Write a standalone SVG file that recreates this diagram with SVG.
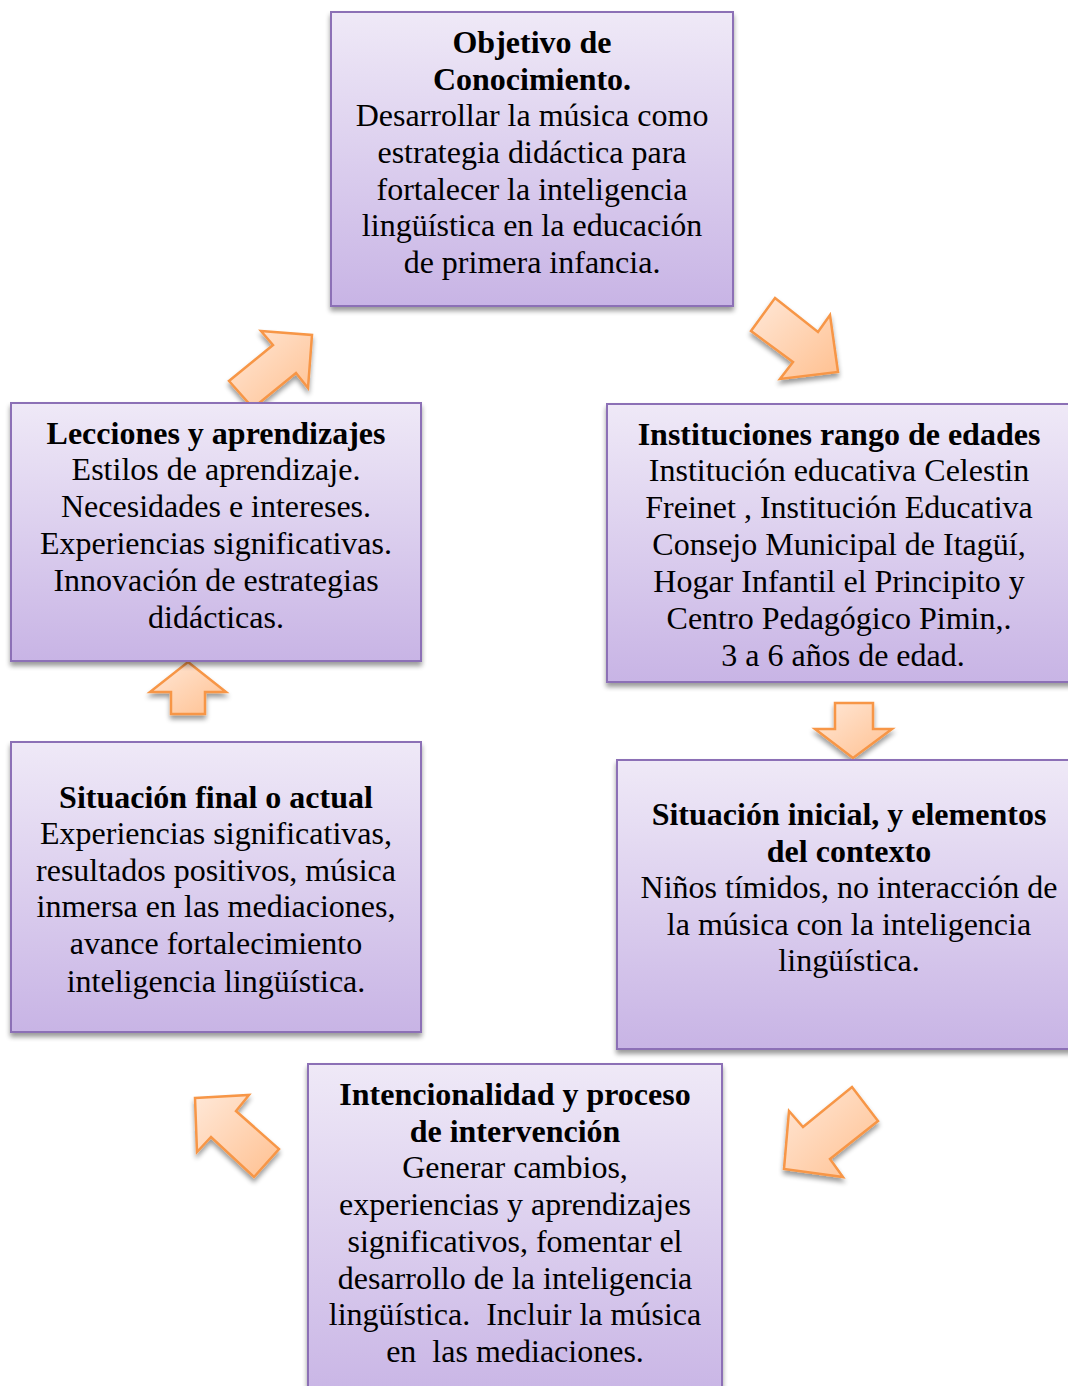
<svg xmlns="http://www.w3.org/2000/svg" width="1068" height="1386" viewBox="0 0 1068 1386">
<defs>
  <linearGradient id="boxg" x1="0" y1="0" x2="0" y2="1">
    <stop offset="0" stop-color="#efe9f7"/>
    <stop offset="1" stop-color="#c8b4e5"/>
  </linearGradient>
  <linearGradient id="arrg" x1="0" y1="0" x2="1" y2="1">
    <stop offset="0" stop-color="#ffe8d8"/>
    <stop offset="1" stop-color="#ffc090"/>
  </linearGradient>
  <filter id="sh" x="-10%" y="-10%" width="130%" height="130%">
    <feGaussianBlur in="SourceAlpha" stdDeviation="2.5"/>
    <feOffset dx="0" dy="4" result="b"/>
    <feComponentTransfer><feFuncA type="linear" slope="0.4"/></feComponentTransfer>
    <feMerge><feMergeNode/><feMergeNode in="SourceGraphic"/></feMerge>
  </filter>
</defs>
<style>
  .box { fill: url(#boxg); stroke: #8c70b6; stroke-width: 2; filter: url(#sh); }
  .arr { fill: url(#arrg); stroke: #f79646; stroke-width: 2.5; stroke-linejoin: miter; filter: url(#sh); }
  text { font-family: "Liberation Serif", "Times New Roman", serif; font-size: 32px; fill: #000; text-anchor: middle; white-space: pre; }
  .b { font-weight: bold; }
</style>
<rect width="1068" height="1386" fill="#ffffff"/>

<g id="connectors">
  <polygon class="arr" points="775,298 818,332 830,315 838,372 780,379 793,362 751,331"/>
  <polygon class="arr" points="835,703 873,703 873,729 892,729 853,758 815,729 835,729"/>
  <polygon class="arr" points="852,1087 878,1121 830,1159 843,1177 784,1169 789,1111 803,1127"/>
  <polygon class="arr" points="195,1098 249,1095 236,1111 279,1149 254,1177 211,1137 197,1152"/>
  <polygon class="arr" points="188,662 226,692 205,692 205,714 171,714 171,692 150,692"/>
  <polygon class="arr" points="261,331 312,335 308,388 296,373 253,408 229,381 273,345"/>
</g>

<g id="node-objetivo">
  <rect class="box" x="331" y="12" width="402" height="294"/>
  <text x="532" y="53" class="b">Objetivo de</text>
  <text x="532" y="90" class="b">Conocimiento.</text>
  <text x="532" y="126">Desarrollar la música como</text>
  <text x="532" y="163">estrategia didáctica para</text>
  <text x="532" y="200">fortalecer la inteligencia</text>
  <text x="532" y="236">lingüística en la educación</text>
  <text x="532" y="273">de primera infancia.</text>
</g>

<g id="node-instituciones">
  <rect class="box" x="607" y="404" width="470" height="278"/>
  <text x="839" y="445" class="b">Instituciones rango de edades</text>
  <text x="839" y="481">Institución educativa Celestin</text>
  <text x="839" y="518">Freinet , Institución Educativa</text>
  <text x="839" y="555">Consejo Municipal de Itagüí,</text>
  <text x="839" y="592">Hogar Infantil el Principito y</text>
  <text x="839" y="629">Centro Pedagógico Pimin,.</text>
  <text x="839" y="666"> 3 a 6 años de edad.</text>
</g>

<g id="node-situacion-inicial">
  <rect class="box" x="617" y="760" width="460" height="289"/>
  <text x="849" y="825" class="b">Situación inicial, y elementos</text>
  <text x="849" y="862" class="b">del contexto</text>
  <text x="849" y="898">Niños tímidos, no interacción de</text>
  <text x="849" y="935">la música con la inteligencia</text>
  <text x="849" y="971">lingüística.</text>
</g>

<g id="node-intencionalidad">
  <rect class="box" x="308" y="1064" width="414" height="340"/>
  <text x="515" y="1105" class="b">Intencionalidad y proceso</text>
  <text x="515" y="1142" class="b">de intervención</text>
  <text x="515" y="1178">Generar cambios,</text>
  <text x="515" y="1215">experiencias y aprendizajes</text>
  <text x="515" y="1252">significativos, fomentar el</text>
  <text x="515" y="1289">desarrollo de la inteligencia</text>
  <text x="515" y="1325">lingüística.  Incluir la música</text>
  <text x="515" y="1362">en  las mediaciones.</text>
</g>

<g id="node-situacion-final">
  <rect class="box" x="11" y="742" width="410" height="290"/>
  <text x="216" y="808" class="b">Situación final o actual</text>
  <text x="216" y="844">Experiencias significativas,</text>
  <text x="216" y="881">resultados positivos, música</text>
  <text x="216" y="917">inmersa en las mediaciones,</text>
  <text x="216" y="954">avance fortalecimiento</text>
  <text x="216" y="992">inteligencia lingüística.</text>
</g>

<g id="node-lecciones">
  <rect class="box" x="11" y="403" width="410" height="258"/>
  <text x="216" y="444" class="b">Lecciones y aprendizajes</text>
  <text x="216" y="480">Estilos de aprendizaje.</text>
  <text x="216" y="517">Necesidades e intereses.</text>
  <text x="216" y="554">Experiencias significativas.</text>
  <text x="216" y="591">Innovación de estrategias</text>
  <text x="216" y="628">didácticas.</text>
</g>
</svg>
